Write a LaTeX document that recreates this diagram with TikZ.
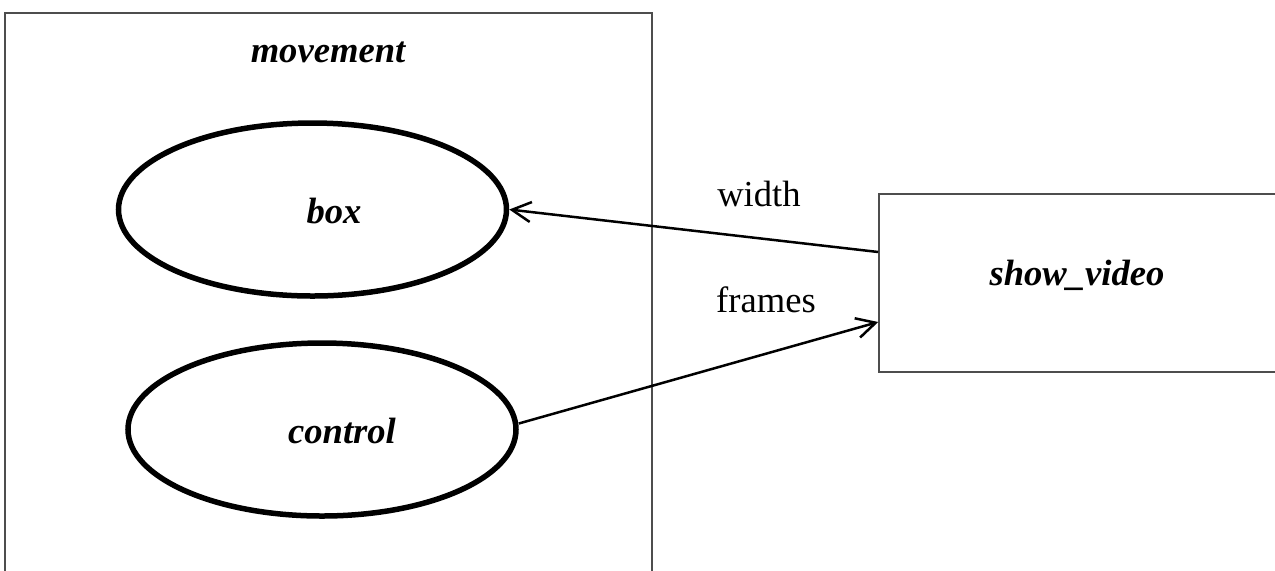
\documentclass[tikz,border=0pt]{standalone}
\usepackage{fontspec}
\setmainfont{Liberation Serif}
\usetikzlibrary{shapes.geometric,arrows.meta}
\definecolor{framegray}{HTML}{4D4D4D}
\tikzset{
  oval/.style={ellipse, draw=black, line width=2.75pt, inner sep=0pt,
    minimum width=194pt, minimum height=86.5pt},
  frame/.style={rectangle, draw=framegray, line width=0.75pt, inner sep=0pt},
  title/.style={font=\fontsize{18.3}{22}\selectfont\bfseries\itshape},
  plain/.style={font=\fontsize{18.3}{22}\selectfont},
  conn/.style={line width=1.25pt, -{Straight Barb[length=9.5pt,width=10pt,line width=1.25pt]}}
}
\begin{document}
\begin{tikzpicture}[x=0.5pt,y=-0.5pt]
\useasboundingbox (0,0) rectangle (1275,570);
\clip (0,0) rectangle (1275,570);
\fill[white] (0,0) rectangle (1275,570);
% container
\node[frame, minimum width=323.5pt, minimum height=283.5pt] (mv) at (328.5,296.5) {};
\node[title] (mvt) at (328,52) {movement};
% ellipses
\node[oval] (box) at (312.5,209.5) {};
\node[title] (boxt) at (334,211) {box};
\node[oval] (ctl) at (322,429.5) {};
\node[title] (ctlt) at (342,431) {control};
% right box
\node[frame, minimum width=205pt, minimum height=89pt] (sv) at (1084,283) {};
\node[title] (svt) at (1077,275) {show\_video};
% connectors
\draw[conn] ([yshift=15.5pt]sv.west) -- (box.east);
\draw[conn] ([yshift=3pt]ctl.east) -- ([yshift=-19.5pt]sv.west);
% labels
\node[plain] (lw) at (759,194) {width};
\node[plain] (lf) at (766,300) {frames};
\end{tikzpicture}
\end{document}
